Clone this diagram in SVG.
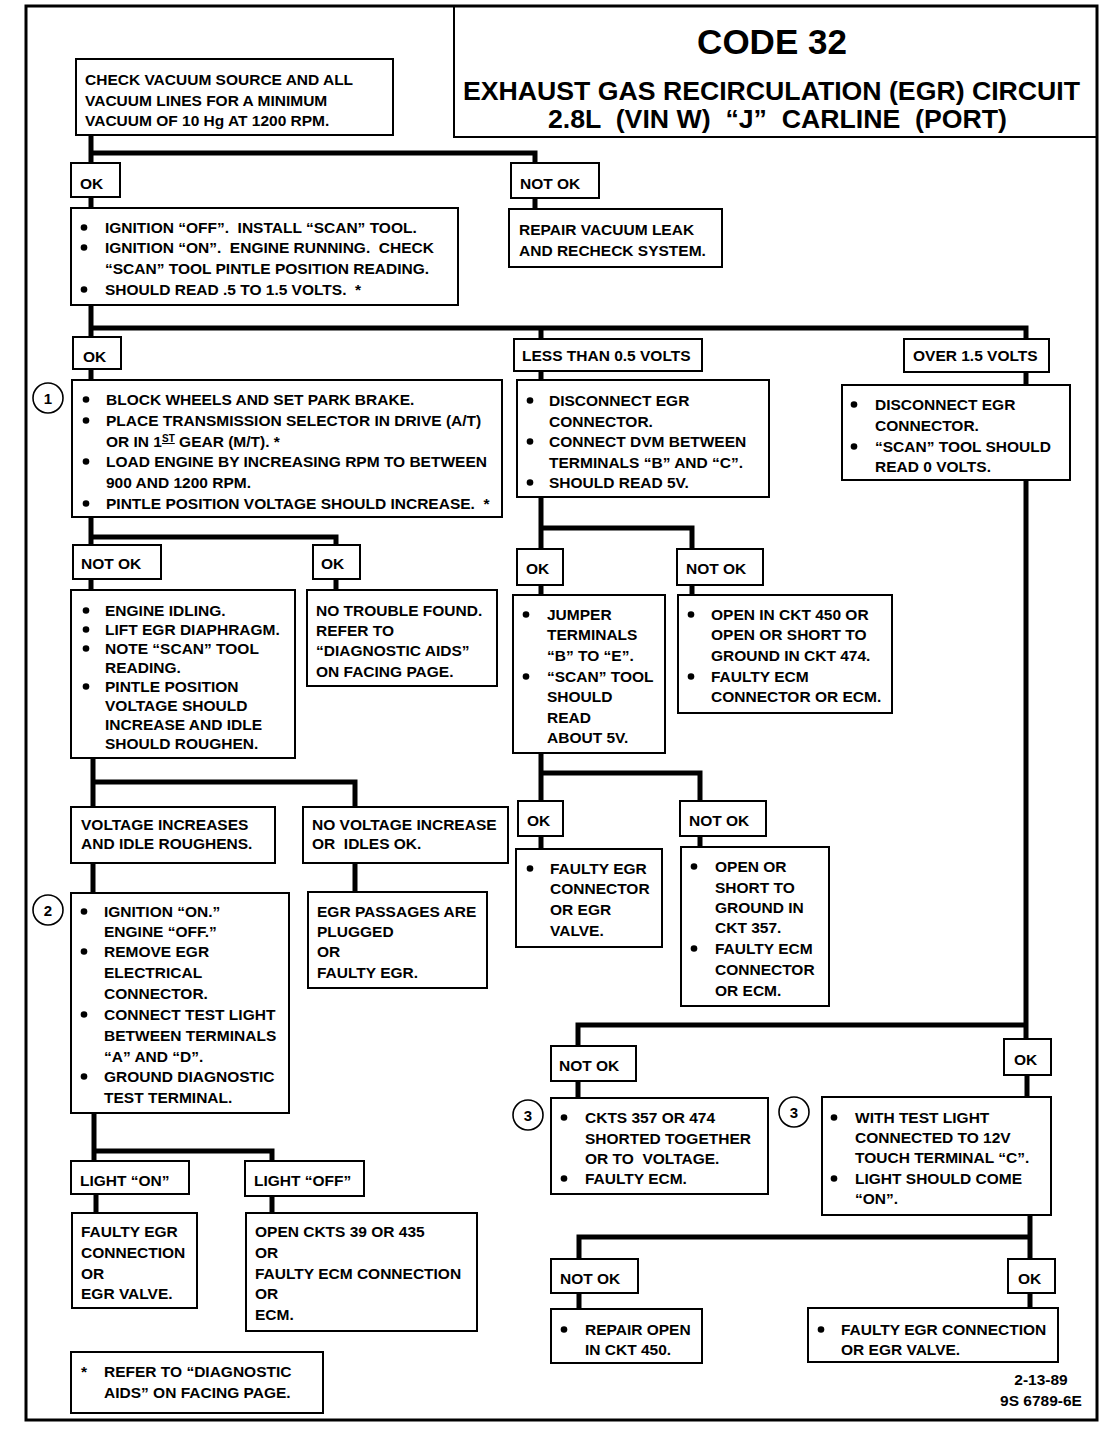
<svg xmlns="http://www.w3.org/2000/svg" width="1120" height="1456" viewBox="0 0 1120 1456">
<style>
.bx{fill:#fff;stroke:#000;stroke-width:2}
.t{font-family:"Liberation Sans",Arial,sans-serif;font-weight:bold;font-size:15.5px;fill:#000}
.ti{font-family:"Liberation Sans",Arial,sans-serif;font-weight:bold;fill:#000;text-anchor:middle}
.c{fill:none;stroke:#000;stroke-width:5;stroke-linejoin:miter}
.b{fill:#000}
.ci{fill:#fff;stroke:#000;stroke-width:1.6}
.cn{font-family:"Liberation Sans",Arial,sans-serif;font-weight:bold;font-size:15px;text-anchor:middle}
</style>
<rect x="0" y="0" width="1120" height="1456" fill="#fff"/>
<rect x="26" y="6" width="1071" height="1414" fill="none" stroke="#000" stroke-width="3"/>

<g id="title">
<rect x="454" y="6" width="643" height="131" fill="none" stroke="#000" stroke-width="2"/>
<text class="ti" x="772" y="54" font-size="35">CODE 32</text>
<text class="ti" x="771.5" y="100" font-size="25" textLength="617" lengthAdjust="spacingAndGlyphs">EXHAUST GAS RECIRCULATION (EGR) CIRCUIT</text>
<text class="ti" x="777.5" y="128" font-size="25" textLength="459" lengthAdjust="spacingAndGlyphs" xml:space="preserve">2.8L  (VIN W)  “J”  CARLINE  (PORT)</text>
</g>

<g id="connectors">
<path class="c" d="M91,135 V163 M91,153 H535 V163"/>
<path class="c" d="M91,197 V208 M535,198 V209"/>
<path class="c" d="M91,305 V337 M91,328 H1026 V339 M541,328 V339"/>
<path class="c" d="M91,369 V380 M541,371 V380 M1026,372 V385"/>
<path class="c" d="M91,517 V545 M91,537 H336 V545"/>
<path class="c" d="M91,579 V590 M336,579 V590"/>
<path class="c" d="M93,758 V807 M93,782 H355 V807"/>
<path class="c" d="M93,863 V893 M355,863 V892"/>
<path class="c" d="M94,1113 V1161 M94,1151 H272 V1161"/>
<path class="c" d="M96,1194 V1213 M272,1196 V1213"/>
<path class="c" d="M541,497 V549 M541,528 H692 V549"/>
<path class="c" d="M541,585 V595 M692,585 V595"/>
<path class="c" d="M541,753 V801 M541,773 H700 V801"/>
<path class="c" d="M541,836 V849 M700,836 V847"/>
<path class="c" d="M1026,480 V1039 M1026,1025 H578 V1046"/>
<path class="c" d="M578,1081 V1098 M1027,1075 V1097"/>
<path class="c" d="M1030,1215 V1259 M1030,1237 H579 V1259"/>
<path class="c" d="M579,1293 V1309 M1030,1293 V1308"/>
</g>

<g id="n_check_vacuum">
<rect class="bx" x="76" y="59" width="317" height="76"/>
<text class="t" x="85" y="85">CHECK VACUUM SOURCE AND ALL</text>
<text class="t" x="85" y="106">VACUUM LINES FOR A MINIMUM</text>
<text class="t" x="85" y="126">VACUUM OF 10 Hg AT 1200 RPM.</text>
</g>
<g id="n_ok1"><rect class="bx" x="71" y="163" width="49" height="34"/><text class="t" x="80" y="189">OK</text></g>
<g id="n_notok1"><rect class="bx" x="511" y="163" width="88" height="35"/><text class="t" x="520" y="189">NOT OK</text></g>
<g id="n_repair_vacuum">
<rect class="bx" x="509" y="209" width="213" height="58"/>
<text class="t" x="519" y="235">REPAIR VACUUM LEAK</text>
<text class="t" x="519" y="256">AND RECHECK SYSTEM.</text>
</g>
<g id="n_ignition_off">
<rect class="bx" x="71" y="208" width="387" height="97"/>
<circle class="b" cx="84" cy="227.5" r="3.3"/><circle class="b" cx="84" cy="247.5" r="3.3"/><circle class="b" cx="84" cy="289.5" r="3.3"/>
<text class="t" x="105" y="233" xml:space="preserve">IGNITION “OFF”.  INSTALL “SCAN” TOOL.</text>
<text class="t" x="105" y="253" xml:space="preserve">IGNITION “ON”.  ENGINE RUNNING.  CHECK</text>
<text class="t" x="105" y="274">“SCAN” TOOL PINTLE POSITION READING.</text>
<text class="t" x="105" y="295" xml:space="preserve">SHOULD READ .5 TO 1.5 VOLTS.  *</text>
</g>
<g id="n_ok2"><rect class="bx" x="73" y="337" width="48" height="32"/><text class="t" x="83" y="362">OK</text></g>
<g id="n_less05"><rect class="bx" x="514" y="339" width="188" height="32"/><text class="t" x="522" y="361">LESS THAN 0.5 VOLTS</text></g>
<g id="n_over15"><rect class="bx" x="904" y="339" width="145" height="33"/><text class="t" x="913" y="361">OVER 1.5 VOLTS</text></g>
<g id="n_step1">
<circle class="ci" cx="48" cy="398" r="15"/><text class="cn" x="48" y="404">1</text>
</g>
<g id="n_block_wheels">
<rect class="bx" x="72" y="380" width="430" height="137"/>
<circle class="b" cx="86" cy="399.5" r="3.3"/><circle class="b" cx="86" cy="420.5" r="3.3"/><circle class="b" cx="86" cy="461.5" r="3.3"/><circle class="b" cx="86" cy="503.5" r="3.3"/>
<text class="t" x="106" y="405">BLOCK WHEELS AND SET PARK BRAKE.</text>
<text class="t" x="106" y="426">PLACE TRANSMISSION SELECTOR IN DRIVE (A/T)</text>
<text class="t" x="106" y="447">OR IN 1<tspan font-size="10" dy="-5" text-decoration="underline">ST</tspan><tspan dy="5"> GEAR (M/T). *</tspan></text>
<text class="t" x="106" y="467">LOAD ENGINE BY INCREASING RPM TO BETWEEN</text>
<text class="t" x="106" y="488">900 AND 1200 RPM.</text>
<text class="t" x="106" y="509" xml:space="preserve">PINTLE POSITION VOLTAGE SHOULD INCREASE.  *</text>
</g>
<g id="n_disconnect_less">
<rect class="bx" x="517" y="380" width="252" height="117"/>
<circle class="b" cx="530" cy="400.5" r="3.3"/><circle class="b" cx="530" cy="441.5" r="3.3"/><circle class="b" cx="530" cy="482.5" r="3.3"/>
<text class="t" x="549" y="406">DISCONNECT EGR</text>
<text class="t" x="549" y="427">CONNECTOR.</text>
<text class="t" x="549" y="447">CONNECT DVM BETWEEN</text>
<text class="t" x="549" y="468">TERMINALS “B” AND “C”.</text>
<text class="t" x="549" y="488">SHOULD READ 5V.</text>
</g>
<g id="n_disconnect_over">
<rect class="bx" x="842" y="385" width="228" height="95"/>
<circle class="b" cx="854" cy="404.5" r="3.3"/><circle class="b" cx="854" cy="446.5" r="3.3"/>
<text class="t" x="875" y="410">DISCONNECT EGR</text>
<text class="t" x="875" y="431">CONNECTOR.</text>
<text class="t" x="875" y="452">“SCAN” TOOL SHOULD</text>
<text class="t" x="875" y="472">READ 0 VOLTS.</text>
</g>
<g id="n_notok2"><rect class="bx" x="73" y="545" width="88" height="34"/><text class="t" x="81" y="569">NOT OK</text></g>
<g id="n_ok3"><rect class="bx" x="313" y="545" width="47" height="34"/><text class="t" x="321" y="569">OK</text></g>
<g id="n_ok4"><rect class="bx" x="517" y="549" width="46" height="36"/><text class="t" x="526" y="574">OK</text></g>
<g id="n_notok4"><rect class="bx" x="677" y="549" width="86" height="36"/><text class="t" x="686" y="574">NOT OK</text></g>
<g id="n_engine_idling">
<rect class="bx" x="71" y="590" width="224" height="168"/>
<circle class="b" cx="86" cy="610.5" r="3.3"/><circle class="b" cx="86" cy="629.5" r="3.3"/><circle class="b" cx="86" cy="648.5" r="3.3"/><circle class="b" cx="86" cy="686.5" r="3.3"/>
<text class="t" x="105" y="616">ENGINE IDLING.</text>
<text class="t" x="105" y="635">LIFT EGR DIAPHRAGM.</text>
<text class="t" x="105" y="654">NOTE “SCAN” TOOL</text>
<text class="t" x="105" y="673">READING.</text>
<text class="t" x="105" y="692">PINTLE POSITION</text>
<text class="t" x="105" y="711">VOLTAGE SHOULD</text>
<text class="t" x="105" y="730">INCREASE AND IDLE</text>
<text class="t" x="105" y="749">SHOULD ROUGHEN.</text>
</g>
<g id="n_no_trouble">
<rect class="bx" x="307" y="590" width="190" height="96"/>
<text class="t" x="316" y="616">NO TROUBLE FOUND.</text>
<text class="t" x="316" y="636">REFER TO</text>
<text class="t" x="316" y="656">“DIAGNOSTIC AIDS”</text>
<text class="t" x="316" y="677">ON FACING PAGE.</text>
</g>
<g id="n_jumper">
<rect class="bx" x="513" y="595" width="152" height="158"/>
<circle class="b" cx="526" cy="614.5" r="3.3"/><circle class="b" cx="526" cy="676.5" r="3.3"/>
<text class="t" x="547" y="620">JUMPER</text>
<text class="t" x="547" y="640">TERMINALS</text>
<text class="t" x="547" y="661">“B” TO “E”.</text>
<text class="t" x="547" y="682">“SCAN” TOOL</text>
<text class="t" x="547" y="702">SHOULD</text>
<text class="t" x="547" y="723">READ</text>
<text class="t" x="547" y="743">ABOUT 5V.</text>
</g>
<g id="n_open_450">
<rect class="bx" x="678" y="595" width="214" height="118"/>
<circle class="b" cx="691" cy="614.5" r="3.3"/><circle class="b" cx="691" cy="676.5" r="3.3"/>
<text class="t" x="711" y="620">OPEN IN CKT 450 OR</text>
<text class="t" x="711" y="640">OPEN OR SHORT TO</text>
<text class="t" x="711" y="661">GROUND IN CKT 474.</text>
<text class="t" x="711" y="682">FAULTY ECM</text>
<text class="t" x="711" y="702">CONNECTOR OR ECM.</text>
</g>
<g id="n_voltage_increases">
<rect class="bx" x="71" y="807" width="204" height="56"/>
<text class="t" x="81" y="830">VOLTAGE INCREASES</text>
<text class="t" x="81" y="849">AND IDLE ROUGHENS.</text>
</g>
<g id="n_no_voltage">
<rect class="bx" x="303" y="807" width="205" height="56"/>
<text class="t" x="312" y="830">NO VOLTAGE INCREASE</text>
<text class="t" x="312" y="849" xml:space="preserve">OR  IDLES OK.</text>
</g>
<g id="n_ok5"><rect class="bx" x="518" y="801" width="45" height="35"/><text class="t" x="527" y="826">OK</text></g>
<g id="n_notok5"><rect class="bx" x="680" y="801" width="86" height="35"/><text class="t" x="689" y="826">NOT OK</text></g>
<g id="n_faulty_egr_connector">
<rect class="bx" x="516" y="849" width="146" height="98"/>
<circle class="b" cx="530" cy="868.5" r="3.3"/>
<text class="t" x="550" y="874">FAULTY EGR</text>
<text class="t" x="550" y="894">CONNECTOR</text>
<text class="t" x="550" y="915">OR EGR</text>
<text class="t" x="550" y="936">VALVE.</text>
</g>
<g id="n_open_short_357">
<rect class="bx" x="681" y="847" width="148" height="159"/>
<circle class="b" cx="694" cy="866.5" r="3.3"/><circle class="b" cx="694" cy="948.5" r="3.3"/>
<text class="t" x="715" y="872">OPEN OR</text>
<text class="t" x="715" y="893">SHORT TO</text>
<text class="t" x="715" y="913">GROUND IN</text>
<text class="t" x="715" y="933">CKT 357.</text>
<text class="t" x="715" y="954">FAULTY ECM</text>
<text class="t" x="715" y="975">CONNECTOR</text>
<text class="t" x="715" y="996">OR ECM.</text>
</g>
<g id="n_step2">
<circle class="ci" cx="48" cy="910" r="15"/><text class="cn" x="48" y="916">2</text>
</g>
<g id="n_ignition_on">
<rect class="bx" x="71" y="893" width="218" height="220"/>
<circle class="b" cx="84" cy="911.5" r="3.3"/><circle class="b" cx="84" cy="951.5" r="3.3"/><circle class="b" cx="84" cy="1014.5" r="3.3"/><circle class="b" cx="84" cy="1076.5" r="3.3"/>
<text class="t" x="104" y="917">IGNITION “ON.”</text>
<text class="t" x="104" y="937">ENGINE “OFF.”</text>
<text class="t" x="104" y="957">REMOVE EGR</text>
<text class="t" x="104" y="978">ELECTRICAL</text>
<text class="t" x="104" y="999">CONNECTOR.</text>
<text class="t" x="104" y="1020">CONNECT TEST LIGHT</text>
<text class="t" x="104" y="1041">BETWEEN TERMINALS</text>
<text class="t" x="104" y="1062">“A” AND “D”.</text>
<text class="t" x="104" y="1082">GROUND DIAGNOSTIC</text>
<text class="t" x="104" y="1103">TEST TERMINAL.</text>
</g>
<g id="n_egr_passages">
<rect class="bx" x="308" y="892" width="179" height="96"/>
<text class="t" x="317" y="917">EGR PASSAGES ARE</text>
<text class="t" x="317" y="937">PLUGGED</text>
<text class="t" x="317" y="957">OR</text>
<text class="t" x="317" y="978">FAULTY EGR.</text>
</g>
<g id="n_notok6"><rect class="bx" x="551" y="1046" width="85" height="35"/><text class="t" x="559" y="1071">NOT OK</text></g>
<g id="n_ok6"><rect class="bx" x="1004" y="1039" width="47" height="36"/><text class="t" x="1014" y="1065">OK</text></g>
<g id="n_step3a">
<circle class="ci" cx="528" cy="1115" r="15"/><text class="cn" x="528" y="1121">3</text>
</g>
<g id="n_ckts_357_474">
<rect class="bx" x="551" y="1098" width="217" height="96"/>
<circle class="b" cx="564" cy="1117.5" r="3.3"/><circle class="b" cx="564" cy="1178.5" r="3.3"/>
<text class="t" x="585" y="1123">CKTS 357 OR 474</text>
<text class="t" x="585" y="1144">SHORTED TOGETHER</text>
<text class="t" x="585" y="1164" xml:space="preserve">OR TO  VOLTAGE.</text>
<text class="t" x="585" y="1184">FAULTY ECM.</text>
</g>
<g id="n_step3b">
<circle class="ci" cx="794" cy="1112" r="15"/><text class="cn" x="794" y="1118">3</text>
</g>
<g id="n_test_light_12v">
<rect class="bx" x="822" y="1097" width="229" height="118"/>
<circle class="b" cx="834" cy="1117.5" r="3.3"/><circle class="b" cx="834" cy="1178.5" r="3.3"/>
<text class="t" x="855" y="1123">WITH TEST LIGHT</text>
<text class="t" x="855" y="1143">CONNECTED TO 12V</text>
<text class="t" x="855" y="1163">TOUCH TERMINAL “C”.</text>
<text class="t" x="855" y="1184">LIGHT SHOULD COME</text>
<text class="t" x="855" y="1204">“ON”.</text>
</g>
<g id="n_light_on"><rect class="bx" x="71" y="1161" width="118" height="33"/><text class="t" x="80" y="1186">LIGHT “ON”</text></g>
<g id="n_light_off"><rect class="bx" x="245" y="1161" width="119" height="35"/><text class="t" x="254" y="1186">LIGHT “OFF”</text></g>
<g id="n_faulty_egr_connection_l">
<rect class="bx" x="72" y="1213" width="125" height="95"/>
<text class="t" x="81" y="1237">FAULTY EGR</text>
<text class="t" x="81" y="1258">CONNECTION</text>
<text class="t" x="81" y="1279">OR</text>
<text class="t" x="81" y="1299">EGR VALVE.</text>
</g>
<g id="n_open_ckts_39_435">
<rect class="bx" x="246" y="1213" width="231" height="118"/>
<text class="t" x="255" y="1237">OPEN CKTS 39 OR 435</text>
<text class="t" x="255" y="1258">OR</text>
<text class="t" x="255" y="1279">FAULTY ECM CONNECTION</text>
<text class="t" x="255" y="1299">OR</text>
<text class="t" x="255" y="1320">ECM.</text>
</g>
<g id="n_notok7"><rect class="bx" x="551" y="1259" width="87" height="34"/><text class="t" x="560" y="1284">NOT OK</text></g>
<g id="n_ok7"><rect class="bx" x="1008" y="1259" width="47" height="34"/><text class="t" x="1018" y="1284">OK</text></g>
<g id="n_repair_open_450">
<rect class="bx" x="551" y="1309" width="151" height="54"/>
<circle class="b" cx="564" cy="1329.5" r="3.3"/>
<text class="t" x="585" y="1335">REPAIR OPEN</text>
<text class="t" x="585" y="1355">IN CKT 450.</text>
</g>
<g id="n_faulty_egr_connection_r">
<rect class="bx" x="808" y="1308" width="250" height="54"/>
<circle class="b" cx="821" cy="1329.5" r="3.3"/>
<text class="t" x="841" y="1335">FAULTY EGR CONNECTION</text>
<text class="t" x="841" y="1355">OR EGR VALVE.</text>
</g>
<g id="n_note">
<rect class="bx" x="71" y="1352" width="252" height="61"/>
<text class="t" x="81" y="1377">*</text>
<text class="t" x="104" y="1377">REFER TO “DIAGNOSTIC</text>
<text class="t" x="104" y="1398">AIDS” ON FACING PAGE.</text>
</g>
<g id="n_ref">
<text class="t" x="1041" y="1385" text-anchor="middle">2-13-89</text>
<text class="t" x="1041" y="1406" text-anchor="middle">9S 6789-6E</text>
</g>
</svg>
